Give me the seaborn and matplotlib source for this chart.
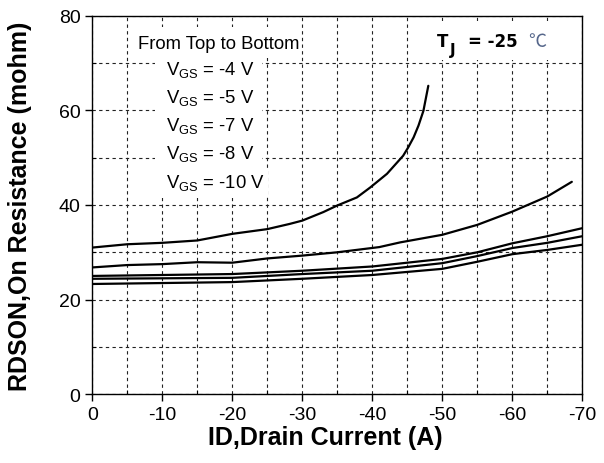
import numpy as np
import pandas as pd
import matplotlib
matplotlib.use('Agg')
import matplotlib.pyplot as plt
from matplotlib.ticker import MultipleLocator
from matplotlib.patches import Rectangle
import seaborn as sns

# curves, top to bottom (VGS = -4, -5, -7, -8, -10 V)
x_vgs4 = [0, -5, -10, -15, -20, -25, -28.2, -30, -33, -35, -37.8, -39.7, -42.1, -44.4, -45.1, -45.9, -46.6, -47.3, -48.0]
y_vgs4 = [31.0, 31.7, 32.0, 32.5, 33.9, 34.9, 36.0, 36.7, 38.5, 39.9, 41.6, 43.7, 46.6, 50.4, 52.1, 54.3, 56.8, 59.9, 65.2]
x_vgs5 = [0, -5, -10, -15, -20, -25, -30, -35, -41, -44, -50, -55, -60, -65, -68.5]
y_vgs5 = [26.8, 27.3, 27.5, 27.9, 27.8, 28.7, 29.3, 30.0, 31.1, 32.1, 33.7, 35.8, 38.6, 41.8, 44.9]
x_low = [0, -10, -20, -30, -40, -50, -55, -60, -65, -70]
y_vgs7 = [25.0, 25.2, 25.4, 26.1, 27.0, 28.6, 30.0, 31.9, 33.4, 35.1]
y_vgs8 = [24.4, 24.5, 24.6, 25.4, 26.1, 27.7, 29.2, 30.9, 32.0, 33.4]
y_vgs10 = [23.3, 23.5, 23.7, 24.4, 25.2, 26.5, 28.0, 29.6, 30.5, 31.6]

labels = ['-4', '-5', '-7', '-8', '-10']
xticks = [0, -10, -20, -30, -40, -50, -60, -70]
yticks = [0, 20, 40, 60, 80]

sns.set_theme(style='white')
plt.rcParams['font.family'] = ['Liberation Sans', 'DejaVu Sans']
plt.rcParams['axes.unicode_minus'] = False
plt.rcParams['mathtext.fontset'] = 'custom'
plt.rcParams['mathtext.rm'] = 'Liberation Sans'
for key in ['text.color', 'axes.labelcolor', 'xtick.color', 'ytick.color']:
    plt.rcParams[key] = 'black'

frames = []
for lab, xs, ys in zip(labels, [x_vgs4, x_vgs5, x_low, x_low, x_low],
                       [y_vgs4, y_vgs5, y_vgs7, y_vgs8, y_vgs10]):
    frames.append(pd.DataFrame({'id': xs, 'rds': ys, 'vgs': lab}))
df = pd.concat(frames, ignore_index=True)

fig = plt.figure(figsize=(6.04, 4.64), dpi=100)
ax = fig.add_axes([0.1528, 0.1483, 0.8113, 0.8155])

sns.lineplot(data=df, x='id', y='rds', hue='vgs', palette=['black'] * 5,
             legend=False, linewidth=1.6, sort=False, estimator=None, ax=ax)

ax.set_xlim(0, -70)
ax.set_ylim(0, 80)
ax.set_xticks(xticks)
ax.set_yticks(yticks)
ax.xaxis.set_minor_locator(MultipleLocator(5))
ax.yaxis.set_minor_locator(MultipleLocator(10))
ax.grid(which='both', color='#222222', linestyle=(0, (3, 3)), linewidth=0.8)
ax.tick_params(which='major', direction='out', length=5, width=1, labelsize=14)
ax.tick_params(which='minor', direction='in', length=3, width=0.8)
ax.tick_params(axis='x', which='both', bottom=True)
ax.tick_params(axis='y', which='both', left=True)
for s in ax.spines.values():
    s.set_color('black')
    s.set_linewidth(1.0)

ax.set_xlabel('ID,Drain Current (A)', fontsize=18, fontweight='bold')
ax.set_ylabel('RDSON,On Resistance (mohm)', fontsize=18, fontweight='bold')
ax.xaxis.set_label_coords(0.475, -0.081)
ax.yaxis.set_label_coords(-0.123, 0.5)

# white backgrounds behind the annotation text (grid hidden there)
for x0, x1, y0, y1 in [(-6.4, -29.3, 71.0, 77.7), (-9.0, -24.2, 41.4, 71.0), (-45.7, -65.7, 70.6, 78.9)]:
    ax.add_patch(Rectangle((x0, y0), x1 - x0, y1 - y0, facecolor='white', edgecolor='none', zorder=1))

ax.text(-6.6, 73.1, 'From Top to Bottom', fontsize=13.3, ha='left', va='baseline')
for lab, yy in zip(labels, [67.7, 61.7, 55.9, 49.9, 43.7]):
    ax.text(-10.5, yy, r'V$_\mathregular{GS}$ = ' + lab + ' V', fontsize=13.3, ha='left', va='baseline',
            bbox=dict(facecolor='white', edgecolor='none', pad=2))

tj_font = dict(family='DejaVu Sans', fontweight='bold', ha='left', va='baseline')
ax.text(-49.2, 73.7, 'T', fontsize=12, **tj_font)
ax.text(-51.1, 71.9, 'J', fontsize=11, **tj_font)
ax.text(-53.7, 73.7, '= -25', fontsize=12, **tj_font)
ax.text(-62.3, 73.7, '℃', fontsize=13, ha='left', va='baseline', color='#55668a',
        family=['Noto Sans CJK SC', 'DejaVu Sans'])

fig.savefig('out.png', dpi=100)
